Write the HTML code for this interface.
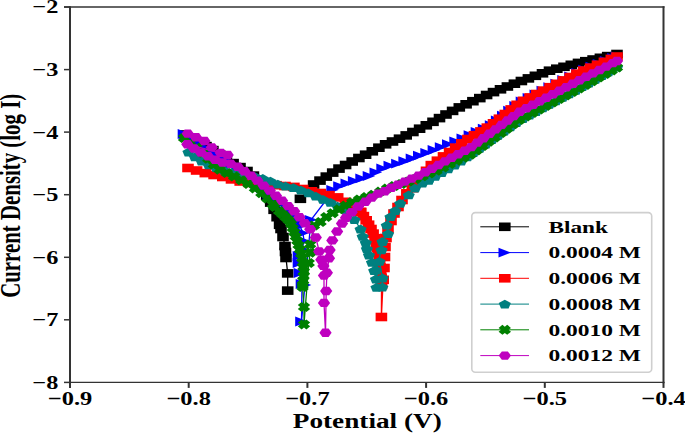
<!DOCTYPE html><html><head><meta charset="utf-8"><style>html,body{margin:0;padding:0;background:#fff;width:685px;height:433px;overflow:hidden}svg{display:block}text{font-family:"Liberation Serif",serif;font-weight:bold;fill:#000}</style></head><body>
<svg width="685" height="433" viewBox="0 0 685 433">
<g>
<polyline points="185.0,134.5 192.0,138.4 199.0,142.2 206.0,146.1 212.9,150.1 219.6,154.5 226.4,158.8 233.1,163.1 240.0,167.1 247.0,171.0 253.4,175.6 258.0,182.2 262.5,188.8 266.7,195.6 270.7,202.6 274.1,209.8 277.1,217.2 279.6,224.8 281.0,229.0 283.0,237.0 285.0,246.0 285.5,252.0 286.0,258.0 287.7,273.4 287.7,290.6" fill="none" stroke="#000000" stroke-width="1.3" stroke-linejoin="round"/>
<polyline points="300.4,198.8 313.6,184.5 320.0,180.6 326.3,176.6 332.7,172.6 339.0,168.6 345.6,165.0 352.2,161.5 358.9,158.0 365.6,154.7 372.3,151.3 378.9,147.7 385.6,144.3 392.5,141.5 399.5,138.7 406.2,135.4 412.9,132.0 419.6,128.7 426.3,125.3 433.0,121.8 439.5,118.1 446.0,114.5 452.6,110.9 459.3,107.4 466.1,104.3 472.9,101.2 479.8,98.1 486.6,95.0 493.5,92.1 500.5,89.3 507.4,86.5 514.4,83.7 521.4,81.0 528.4,78.4 535.4,75.8 542.5,73.3 549.5,70.7 556.8,68.7 564.0,66.8 571.3,64.8 578.5,62.9 585.8,61.2 593.1,59.5 600.4,57.8 607.7,56.1 617.0,54.0" fill="none" stroke="#000000" stroke-width="1.3" stroke-linejoin="round"/>
<polygon points="179.2,130.2 190.8,130.2 190.8,138.8 179.2,138.8" fill="#000000"/>
<polygon points="186.2,134.1 197.8,134.1 197.8,142.7 186.2,142.7" fill="#000000"/>
<polygon points="193.2,137.9 204.8,137.9 204.8,146.5 193.2,146.5" fill="#000000"/>
<polygon points="200.2,141.8 211.8,141.8 211.8,150.4 200.2,150.4" fill="#000000"/>
<polygon points="207.1,145.8 218.7,145.8 218.7,154.4 207.1,154.4" fill="#000000"/>
<polygon points="213.8,150.2 225.4,150.2 225.4,158.8 213.8,158.8" fill="#000000"/>
<polygon points="220.6,154.5 232.2,154.5 232.2,163.1 220.6,163.1" fill="#000000"/>
<polygon points="227.3,158.8 238.9,158.8 238.9,167.4 227.3,167.4" fill="#000000"/>
<polygon points="234.2,162.8 245.8,162.8 245.8,171.4 234.2,171.4" fill="#000000"/>
<polygon points="241.2,166.7 252.8,166.7 252.8,175.3 241.2,175.3" fill="#000000"/>
<polygon points="247.6,171.3 259.2,171.3 259.2,179.9 247.6,179.9" fill="#000000"/>
<polygon points="252.2,177.9 263.8,177.9 263.8,186.5 252.2,186.5" fill="#000000"/>
<polygon points="256.7,184.5 268.3,184.5 268.3,193.1 256.7,193.1" fill="#000000"/>
<polygon points="260.9,191.3 272.5,191.3 272.5,199.9 260.9,199.9" fill="#000000"/>
<polygon points="264.9,198.3 276.5,198.3 276.5,206.9 264.9,206.9" fill="#000000"/>
<polygon points="268.3,205.5 279.9,205.5 279.9,214.1 268.3,214.1" fill="#000000"/>
<polygon points="271.3,212.9 282.9,212.9 282.9,221.5 271.3,221.5" fill="#000000"/>
<polygon points="273.8,220.5 285.4,220.5 285.4,229.1 273.8,229.1" fill="#000000"/>
<polygon points="275.2,224.7 286.8,224.7 286.8,233.3 275.2,233.3" fill="#000000"/>
<polygon points="277.2,232.7 288.8,232.7 288.8,241.3 277.2,241.3" fill="#000000"/>
<polygon points="279.2,241.7 290.8,241.7 290.8,250.3 279.2,250.3" fill="#000000"/>
<polygon points="279.7,247.7 291.3,247.7 291.3,256.3 279.7,256.3" fill="#000000"/>
<polygon points="280.2,253.7 291.8,253.7 291.8,262.3 280.2,262.3" fill="#000000"/>
<polygon points="281.9,269.1 293.5,269.1 293.5,277.7 281.9,277.7" fill="#000000"/>
<polygon points="281.9,286.3 293.5,286.3 293.5,294.9 281.9,294.9" fill="#000000"/>
<polygon points="294.6,194.5 306.2,194.5 306.2,203.1 294.6,203.1" fill="#000000"/>
<polygon points="307.8,180.2 319.4,180.2 319.4,188.8 307.8,188.8" fill="#000000"/>
<polygon points="314.2,176.3 325.8,176.3 325.8,184.9 314.2,184.9" fill="#000000"/>
<polygon points="320.5,172.3 332.1,172.3 332.1,180.9 320.5,180.9" fill="#000000"/>
<polygon points="326.9,168.3 338.5,168.3 338.5,176.9 326.9,176.9" fill="#000000"/>
<polygon points="333.2,164.3 344.8,164.3 344.8,172.9 333.2,172.9" fill="#000000"/>
<polygon points="339.8,160.7 351.4,160.7 351.4,169.3 339.8,169.3" fill="#000000"/>
<polygon points="346.4,157.2 358.0,157.2 358.0,165.8 346.4,165.8" fill="#000000"/>
<polygon points="353.1,153.7 364.7,153.7 364.7,162.3 353.1,162.3" fill="#000000"/>
<polygon points="359.8,150.4 371.4,150.4 371.4,159.0 359.8,159.0" fill="#000000"/>
<polygon points="366.5,147.0 378.1,147.0 378.1,155.6 366.5,155.6" fill="#000000"/>
<polygon points="373.1,143.4 384.7,143.4 384.7,152.0 373.1,152.0" fill="#000000"/>
<polygon points="379.8,140.0 391.4,140.0 391.4,148.6 379.8,148.6" fill="#000000"/>
<polygon points="386.7,137.2 398.3,137.2 398.3,145.8 386.7,145.8" fill="#000000"/>
<polygon points="393.7,134.4 405.3,134.4 405.3,143.0 393.7,143.0" fill="#000000"/>
<polygon points="400.4,131.1 412.0,131.1 412.0,139.7 400.4,139.7" fill="#000000"/>
<polygon points="407.1,127.7 418.7,127.7 418.7,136.3 407.1,136.3" fill="#000000"/>
<polygon points="413.8,124.4 425.4,124.4 425.4,133.0 413.8,133.0" fill="#000000"/>
<polygon points="420.5,121.0 432.1,121.0 432.1,129.6 420.5,129.6" fill="#000000"/>
<polygon points="427.2,117.5 438.8,117.5 438.8,126.1 427.2,126.1" fill="#000000"/>
<polygon points="433.7,113.8 445.3,113.8 445.3,122.4 433.7,122.4" fill="#000000"/>
<polygon points="440.2,110.2 451.8,110.2 451.8,118.8 440.2,118.8" fill="#000000"/>
<polygon points="446.8,106.6 458.4,106.6 458.4,115.2 446.8,115.2" fill="#000000"/>
<polygon points="453.5,103.1 465.1,103.1 465.1,111.7 453.5,111.7" fill="#000000"/>
<polygon points="460.3,100.0 471.9,100.0 471.9,108.6 460.3,108.6" fill="#000000"/>
<polygon points="467.1,96.9 478.7,96.9 478.7,105.5 467.1,105.5" fill="#000000"/>
<polygon points="474.0,93.8 485.6,93.8 485.6,102.4 474.0,102.4" fill="#000000"/>
<polygon points="480.8,90.7 492.4,90.7 492.4,99.3 480.8,99.3" fill="#000000"/>
<polygon points="487.7,87.8 499.3,87.8 499.3,96.4 487.7,96.4" fill="#000000"/>
<polygon points="494.7,85.0 506.3,85.0 506.3,93.6 494.7,93.6" fill="#000000"/>
<polygon points="501.6,82.2 513.2,82.2 513.2,90.8 501.6,90.8" fill="#000000"/>
<polygon points="508.6,79.4 520.2,79.4 520.2,88.0 508.6,88.0" fill="#000000"/>
<polygon points="515.6,76.7 527.2,76.7 527.2,85.3 515.6,85.3" fill="#000000"/>
<polygon points="522.6,74.1 534.2,74.1 534.2,82.7 522.6,82.7" fill="#000000"/>
<polygon points="529.6,71.5 541.2,71.5 541.2,80.1 529.6,80.1" fill="#000000"/>
<polygon points="536.7,69.0 548.3,69.0 548.3,77.6 536.7,77.6" fill="#000000"/>
<polygon points="543.7,66.4 555.3,66.4 555.3,75.0 543.7,75.0" fill="#000000"/>
<polygon points="551.0,64.4 562.6,64.4 562.6,73.0 551.0,73.0" fill="#000000"/>
<polygon points="558.2,62.5 569.8,62.5 569.8,71.1 558.2,71.1" fill="#000000"/>
<polygon points="565.5,60.5 577.1,60.5 577.1,69.1 565.5,69.1" fill="#000000"/>
<polygon points="572.7,58.6 584.3,58.6 584.3,67.2 572.7,67.2" fill="#000000"/>
<polygon points="580.0,56.9 591.6,56.9 591.6,65.5 580.0,65.5" fill="#000000"/>
<polygon points="587.3,55.2 598.9,55.2 598.9,63.8 587.3,63.8" fill="#000000"/>
<polygon points="594.6,53.5 606.2,53.5 606.2,62.1 594.6,62.1" fill="#000000"/>
<polygon points="601.9,51.8 613.5,51.8 613.5,60.4 601.9,60.4" fill="#000000"/>
<polygon points="611.2,49.7 622.8,49.7 622.8,58.3 611.2,58.3" fill="#000000"/>
</g>
<g>
<polyline points="184.0,134.0 190.7,138.4 197.3,142.9 204.0,147.3 210.8,151.5 217.6,155.7 224.4,159.8 231.2,164.2 237.8,168.7 244.4,173.2 250.9,177.8 256.8,183.2 262.8,188.5 268.7,193.9 274.9,198.9 281.2,203.9 287.5,208.8 292.5,215.0 297.0,221.6 300.0,226.0 303.0,233.0 304.0,241.0 302.0,249.0 299.0,256.0 299.0,263.0 300.0,273.0 302.0,284.0 301.5,321.5 305.0,285.0 311.0,219.8 327.0,199.0 332.6,189.8 339.5,186.1 346.8,183.4 354.2,180.9 361.6,178.4 369.0,176.0 375.8,172.3 382.6,168.4 389.8,165.7 397.4,163.7 404.7,161.2 412.0,158.4 419.3,155.6 426.6,152.8 433.9,150.0 441.1,147.1 448.3,144.2 455.6,141.3 462.8,138.3 469.9,135.1 477.0,131.9 484.1,128.6 491.1,125.2 497.2,120.4 503.3,115.6 509.5,110.7 515.6,105.9 522.0,101.5 528.9,97.9 535.8,94.3 542.8,90.7 549.7,87.2 556.6,83.6 563.6,80.0 570.5,76.4 577.4,72.8 584.5,69.7 591.8,66.7 599.0,63.8 606.2,60.9 613.5,57.9 617.0,56.5" fill="none" stroke="#0000ff" stroke-width="1.3" stroke-linejoin="round"/>
<polygon points="190.3,134.0 177.7,129.1 177.7,138.9" fill="#0000ff"/>
<polygon points="197.0,138.4 184.4,133.5 184.4,143.3" fill="#0000ff"/>
<polygon points="203.6,142.9 191.0,138.0 191.0,147.8" fill="#0000ff"/>
<polygon points="210.3,147.3 197.7,142.4 197.7,152.2" fill="#0000ff"/>
<polygon points="217.1,151.5 204.5,146.6 204.5,156.4" fill="#0000ff"/>
<polygon points="223.9,155.7 211.3,150.8 211.3,160.6" fill="#0000ff"/>
<polygon points="230.7,159.8 218.1,154.9 218.1,164.7" fill="#0000ff"/>
<polygon points="237.5,164.2 224.9,159.3 224.9,169.1" fill="#0000ff"/>
<polygon points="244.1,168.7 231.5,163.8 231.5,173.6" fill="#0000ff"/>
<polygon points="250.7,173.2 238.1,168.3 238.1,178.1" fill="#0000ff"/>
<polygon points="257.2,177.8 244.6,172.9 244.6,182.7" fill="#0000ff"/>
<polygon points="263.1,183.2 250.5,178.3 250.5,188.1" fill="#0000ff"/>
<polygon points="269.1,188.5 256.5,183.6 256.5,193.4" fill="#0000ff"/>
<polygon points="275.0,193.9 262.4,189.0 262.4,198.8" fill="#0000ff"/>
<polygon points="281.2,198.9 268.6,194.0 268.6,203.8" fill="#0000ff"/>
<polygon points="287.5,203.9 274.9,199.0 274.9,208.8" fill="#0000ff"/>
<polygon points="293.8,208.8 281.2,203.9 281.2,213.7" fill="#0000ff"/>
<polygon points="298.8,215.0 286.2,210.1 286.2,219.9" fill="#0000ff"/>
<polygon points="303.3,221.6 290.7,216.7 290.7,226.5" fill="#0000ff"/>
<polygon points="306.3,226.0 293.7,221.1 293.7,230.9" fill="#0000ff"/>
<polygon points="309.3,233.0 296.7,228.1 296.7,237.9" fill="#0000ff"/>
<polygon points="310.3,241.0 297.7,236.1 297.7,245.9" fill="#0000ff"/>
<polygon points="308.3,249.0 295.7,244.1 295.7,253.9" fill="#0000ff"/>
<polygon points="305.3,256.0 292.7,251.1 292.7,260.9" fill="#0000ff"/>
<polygon points="305.3,263.0 292.7,258.1 292.7,267.9" fill="#0000ff"/>
<polygon points="306.3,273.0 293.7,268.1 293.7,277.9" fill="#0000ff"/>
<polygon points="308.3,284.0 295.7,279.1 295.7,288.9" fill="#0000ff"/>
<polygon points="307.8,321.5 295.2,316.6 295.2,326.4" fill="#0000ff"/>
<polygon points="311.3,285.0 298.7,280.1 298.7,289.9" fill="#0000ff"/>
<polygon points="317.3,219.8 304.7,214.9 304.7,224.7" fill="#0000ff"/>
<polygon points="333.3,199.0 320.7,194.1 320.7,203.9" fill="#0000ff"/>
<polygon points="338.9,189.8 326.3,184.9 326.3,194.7" fill="#0000ff"/>
<polygon points="345.8,186.1 333.2,181.2 333.2,191.0" fill="#0000ff"/>
<polygon points="353.1,183.4 340.5,178.5 340.5,188.3" fill="#0000ff"/>
<polygon points="360.5,180.9 347.9,176.0 347.9,185.8" fill="#0000ff"/>
<polygon points="367.9,178.4 355.3,173.5 355.3,183.3" fill="#0000ff"/>
<polygon points="375.3,176.0 362.7,171.1 362.7,180.9" fill="#0000ff"/>
<polygon points="382.1,172.3 369.5,167.4 369.5,177.2" fill="#0000ff"/>
<polygon points="388.9,168.4 376.3,163.5 376.3,173.3" fill="#0000ff"/>
<polygon points="396.1,165.7 383.5,160.8 383.5,170.6" fill="#0000ff"/>
<polygon points="403.7,163.7 391.1,158.8 391.1,168.6" fill="#0000ff"/>
<polygon points="411.0,161.2 398.4,156.3 398.4,166.1" fill="#0000ff"/>
<polygon points="418.3,158.4 405.7,153.5 405.7,163.3" fill="#0000ff"/>
<polygon points="425.6,155.6 413.0,150.7 413.0,160.5" fill="#0000ff"/>
<polygon points="432.9,152.8 420.3,147.9 420.3,157.7" fill="#0000ff"/>
<polygon points="440.2,150.0 427.6,145.1 427.6,154.9" fill="#0000ff"/>
<polygon points="447.4,147.1 434.8,142.2 434.8,152.0" fill="#0000ff"/>
<polygon points="454.6,144.2 442.0,139.3 442.0,149.1" fill="#0000ff"/>
<polygon points="461.9,141.3 449.3,136.4 449.3,146.2" fill="#0000ff"/>
<polygon points="469.1,138.3 456.5,133.4 456.5,143.2" fill="#0000ff"/>
<polygon points="476.2,135.1 463.6,130.2 463.6,140.0" fill="#0000ff"/>
<polygon points="483.3,131.9 470.7,127.0 470.7,136.8" fill="#0000ff"/>
<polygon points="490.4,128.6 477.8,123.7 477.8,133.5" fill="#0000ff"/>
<polygon points="497.4,125.2 484.8,120.3 484.8,130.1" fill="#0000ff"/>
<polygon points="503.5,120.4 490.9,115.5 490.9,125.3" fill="#0000ff"/>
<polygon points="509.6,115.6 497.0,110.7 497.0,120.5" fill="#0000ff"/>
<polygon points="515.8,110.7 503.2,105.8 503.2,115.6" fill="#0000ff"/>
<polygon points="521.9,105.9 509.3,101.0 509.3,110.8" fill="#0000ff"/>
<polygon points="528.3,101.5 515.7,96.6 515.7,106.4" fill="#0000ff"/>
<polygon points="535.2,97.9 522.6,93.0 522.6,102.8" fill="#0000ff"/>
<polygon points="542.1,94.3 529.5,89.4 529.5,99.2" fill="#0000ff"/>
<polygon points="549.1,90.7 536.5,85.8 536.5,95.6" fill="#0000ff"/>
<polygon points="556.0,87.2 543.4,82.3 543.4,92.1" fill="#0000ff"/>
<polygon points="562.9,83.6 550.3,78.7 550.3,88.5" fill="#0000ff"/>
<polygon points="569.9,80.0 557.3,75.1 557.3,84.9" fill="#0000ff"/>
<polygon points="576.8,76.4 564.2,71.5 564.2,81.3" fill="#0000ff"/>
<polygon points="583.7,72.8 571.1,67.9 571.1,77.7" fill="#0000ff"/>
<polygon points="590.8,69.7 578.2,64.8 578.2,74.6" fill="#0000ff"/>
<polygon points="598.1,66.7 585.5,61.8 585.5,71.6" fill="#0000ff"/>
<polygon points="605.3,63.8 592.7,58.9 592.7,68.7" fill="#0000ff"/>
<polygon points="612.5,60.9 599.9,56.0 599.9,65.8" fill="#0000ff"/>
<polygon points="619.8,57.9 607.2,53.0 607.2,62.8" fill="#0000ff"/>
<polygon points="623.3,56.5 610.7,51.6 610.7,61.4" fill="#0000ff"/>
</g>
<g>
<polyline points="188.0,168.0 196.6,170.5 205.3,173.1 214.1,175.0 222.8,177.0 231.5,179.4 240.2,181.5 249.1,182.9 258.1,183.8 267.0,184.5 276.0,185.2 285.0,186.0 293.9,186.9 302.7,189.0 311.4,191.3 320.2,193.0 329.0,195.1 337.7,197.4 345.4,201.8 352.8,206.9 360.6,212.0 360.6,212.0 363.4,216.1 366.2,220.3 368.6,224.7 371.0,229.0 373.1,233.6 375.0,238.2 376.3,243.0 377.4,247.9 378.4,252.8 379.2,257.8 379.7,262.7 380.2,267.7 380.7,272.7 381.1,277.7 381.4,282.6 381.5,285.0 381.4,317.0 383.2,279.8 384.0,268.0 384.5,257.0 385.0,247.0 386.0,238.0 388.0,229.0 391.0,221.0 394.0,213.5 398.0,207.0 402.0,200.0 407.0,193.5 407.0,193.5 412.3,188.2 417.5,182.8 422.1,176.9 426.5,170.8 431.3,165.1 437.4,160.7 443.5,156.4 449.6,152.0 455.6,147.6 461.8,143.3 467.9,139.0 474.4,135.2 480.9,131.4 487.3,127.6 493.5,123.3 499.4,118.7 505.3,114.0 511.2,109.4 517.1,104.8 523.4,100.8 530.1,97.4 536.7,94.0 543.4,90.6 550.1,87.2 556.8,83.8 563.5,80.4 570.2,77.0 576.9,73.6 583.7,70.5 590.6,67.6 597.5,64.7 604.4,61.8 611.3,58.9 617.0,56.5" fill="none" stroke="#ff0000" stroke-width="1.3" stroke-linejoin="round"/>
<polygon points="182.2,163.7 193.8,163.7 193.8,172.3 182.2,172.3" fill="#ff0000"/>
<polygon points="190.8,166.2 202.4,166.2 202.4,174.8 190.8,174.8" fill="#ff0000"/>
<polygon points="199.5,168.8 211.1,168.8 211.1,177.4 199.5,177.4" fill="#ff0000"/>
<polygon points="208.3,170.7 219.9,170.7 219.9,179.3 208.3,179.3" fill="#ff0000"/>
<polygon points="217.0,172.7 228.6,172.7 228.6,181.3 217.0,181.3" fill="#ff0000"/>
<polygon points="225.7,175.1 237.3,175.1 237.3,183.7 225.7,183.7" fill="#ff0000"/>
<polygon points="234.4,177.2 246.0,177.2 246.0,185.8 234.4,185.8" fill="#ff0000"/>
<polygon points="243.3,178.6 254.9,178.6 254.9,187.2 243.3,187.2" fill="#ff0000"/>
<polygon points="252.3,179.5 263.9,179.5 263.9,188.1 252.3,188.1" fill="#ff0000"/>
<polygon points="261.2,180.2 272.8,180.2 272.8,188.8 261.2,188.8" fill="#ff0000"/>
<polygon points="270.2,180.9 281.8,180.9 281.8,189.5 270.2,189.5" fill="#ff0000"/>
<polygon points="279.2,181.7 290.8,181.7 290.8,190.3 279.2,190.3" fill="#ff0000"/>
<polygon points="288.1,182.6 299.7,182.6 299.7,191.2 288.1,191.2" fill="#ff0000"/>
<polygon points="296.9,184.7 308.5,184.7 308.5,193.3 296.9,193.3" fill="#ff0000"/>
<polygon points="305.6,187.0 317.2,187.0 317.2,195.6 305.6,195.6" fill="#ff0000"/>
<polygon points="314.4,188.7 326.0,188.7 326.0,197.3 314.4,197.3" fill="#ff0000"/>
<polygon points="323.2,190.8 334.8,190.8 334.8,199.4 323.2,199.4" fill="#ff0000"/>
<polygon points="331.9,193.1 343.5,193.1 343.5,201.7 331.9,201.7" fill="#ff0000"/>
<polygon points="339.6,197.5 351.2,197.5 351.2,206.1 339.6,206.1" fill="#ff0000"/>
<polygon points="347.0,202.6 358.6,202.6 358.6,211.2 347.0,211.2" fill="#ff0000"/>
<polygon points="354.8,207.7 366.4,207.7 366.4,216.3 354.8,216.3" fill="#ff0000"/>
<polygon points="354.8,207.7 366.4,207.7 366.4,216.3 354.8,216.3" fill="#ff0000"/>
<polygon points="357.6,211.8 369.2,211.8 369.2,220.4 357.6,220.4" fill="#ff0000"/>
<polygon points="360.4,216.0 372.0,216.0 372.0,224.6 360.4,224.6" fill="#ff0000"/>
<polygon points="362.8,220.4 374.4,220.4 374.4,229.0 362.8,229.0" fill="#ff0000"/>
<polygon points="365.2,224.7 376.8,224.7 376.8,233.3 365.2,233.3" fill="#ff0000"/>
<polygon points="367.3,229.3 378.9,229.3 378.9,237.9 367.3,237.9" fill="#ff0000"/>
<polygon points="369.2,233.9 380.8,233.9 380.8,242.5 369.2,242.5" fill="#ff0000"/>
<polygon points="370.5,238.7 382.1,238.7 382.1,247.3 370.5,247.3" fill="#ff0000"/>
<polygon points="371.6,243.6 383.2,243.6 383.2,252.2 371.6,252.2" fill="#ff0000"/>
<polygon points="372.6,248.5 384.2,248.5 384.2,257.1 372.6,257.1" fill="#ff0000"/>
<polygon points="373.4,253.5 385.0,253.5 385.0,262.1 373.4,262.1" fill="#ff0000"/>
<polygon points="373.9,258.4 385.5,258.4 385.5,267.0 373.9,267.0" fill="#ff0000"/>
<polygon points="374.4,263.4 386.0,263.4 386.0,272.0 374.4,272.0" fill="#ff0000"/>
<polygon points="374.9,268.4 386.5,268.4 386.5,277.0 374.9,277.0" fill="#ff0000"/>
<polygon points="375.3,273.4 386.9,273.4 386.9,282.0 375.3,282.0" fill="#ff0000"/>
<polygon points="375.6,278.3 387.2,278.3 387.2,286.9 375.6,286.9" fill="#ff0000"/>
<polygon points="375.7,280.7 387.3,280.7 387.3,289.3 375.7,289.3" fill="#ff0000"/>
<polygon points="375.6,312.7 387.2,312.7 387.2,321.3 375.6,321.3" fill="#ff0000"/>
<polygon points="377.4,275.5 389.0,275.5 389.0,284.1 377.4,284.1" fill="#ff0000"/>
<polygon points="378.2,263.7 389.8,263.7 389.8,272.3 378.2,272.3" fill="#ff0000"/>
<polygon points="378.7,252.7 390.3,252.7 390.3,261.3 378.7,261.3" fill="#ff0000"/>
<polygon points="379.2,242.7 390.8,242.7 390.8,251.3 379.2,251.3" fill="#ff0000"/>
<polygon points="380.2,233.7 391.8,233.7 391.8,242.3 380.2,242.3" fill="#ff0000"/>
<polygon points="382.2,224.7 393.8,224.7 393.8,233.3 382.2,233.3" fill="#ff0000"/>
<polygon points="385.2,216.7 396.8,216.7 396.8,225.3 385.2,225.3" fill="#ff0000"/>
<polygon points="388.2,209.2 399.8,209.2 399.8,217.8 388.2,217.8" fill="#ff0000"/>
<polygon points="392.2,202.7 403.8,202.7 403.8,211.3 392.2,211.3" fill="#ff0000"/>
<polygon points="396.2,195.7 407.8,195.7 407.8,204.3 396.2,204.3" fill="#ff0000"/>
<polygon points="401.2,189.2 412.8,189.2 412.8,197.8 401.2,197.8" fill="#ff0000"/>
<polygon points="401.2,189.2 412.8,189.2 412.8,197.8 401.2,197.8" fill="#ff0000"/>
<polygon points="406.5,183.9 418.1,183.9 418.1,192.5 406.5,192.5" fill="#ff0000"/>
<polygon points="411.7,178.5 423.3,178.5 423.3,187.1 411.7,187.1" fill="#ff0000"/>
<polygon points="416.3,172.6 427.9,172.6 427.9,181.2 416.3,181.2" fill="#ff0000"/>
<polygon points="420.7,166.5 432.3,166.5 432.3,175.1 420.7,175.1" fill="#ff0000"/>
<polygon points="425.5,160.8 437.1,160.8 437.1,169.4 425.5,169.4" fill="#ff0000"/>
<polygon points="431.6,156.4 443.2,156.4 443.2,165.0 431.6,165.0" fill="#ff0000"/>
<polygon points="437.7,152.1 449.3,152.1 449.3,160.7 437.7,160.7" fill="#ff0000"/>
<polygon points="443.8,147.7 455.4,147.7 455.4,156.3 443.8,156.3" fill="#ff0000"/>
<polygon points="449.8,143.3 461.4,143.3 461.4,151.9 449.8,151.9" fill="#ff0000"/>
<polygon points="456.0,139.0 467.6,139.0 467.6,147.6 456.0,147.6" fill="#ff0000"/>
<polygon points="462.1,134.7 473.7,134.7 473.7,143.3 462.1,143.3" fill="#ff0000"/>
<polygon points="468.6,130.9 480.2,130.9 480.2,139.5 468.6,139.5" fill="#ff0000"/>
<polygon points="475.1,127.1 486.7,127.1 486.7,135.7 475.1,135.7" fill="#ff0000"/>
<polygon points="481.5,123.3 493.1,123.3 493.1,131.9 481.5,131.9" fill="#ff0000"/>
<polygon points="487.7,119.0 499.3,119.0 499.3,127.6 487.7,127.6" fill="#ff0000"/>
<polygon points="493.6,114.4 505.2,114.4 505.2,123.0 493.6,123.0" fill="#ff0000"/>
<polygon points="499.5,109.7 511.1,109.7 511.1,118.3 499.5,118.3" fill="#ff0000"/>
<polygon points="505.4,105.1 517.0,105.1 517.0,113.7 505.4,113.7" fill="#ff0000"/>
<polygon points="511.3,100.5 522.9,100.5 522.9,109.1 511.3,109.1" fill="#ff0000"/>
<polygon points="517.6,96.5 529.2,96.5 529.2,105.1 517.6,105.1" fill="#ff0000"/>
<polygon points="524.3,93.1 535.9,93.1 535.9,101.7 524.3,101.7" fill="#ff0000"/>
<polygon points="530.9,89.7 542.5,89.7 542.5,98.3 530.9,98.3" fill="#ff0000"/>
<polygon points="537.6,86.3 549.2,86.3 549.2,94.9 537.6,94.9" fill="#ff0000"/>
<polygon points="544.3,82.9 555.9,82.9 555.9,91.5 544.3,91.5" fill="#ff0000"/>
<polygon points="551.0,79.5 562.6,79.5 562.6,88.1 551.0,88.1" fill="#ff0000"/>
<polygon points="557.7,76.1 569.3,76.1 569.3,84.7 557.7,84.7" fill="#ff0000"/>
<polygon points="564.4,72.7 576.0,72.7 576.0,81.3 564.4,81.3" fill="#ff0000"/>
<polygon points="571.1,69.3 582.7,69.3 582.7,77.9 571.1,77.9" fill="#ff0000"/>
<polygon points="577.9,66.2 589.5,66.2 589.5,74.8 577.9,74.8" fill="#ff0000"/>
<polygon points="584.8,63.3 596.4,63.3 596.4,71.9 584.8,71.9" fill="#ff0000"/>
<polygon points="591.7,60.4 603.3,60.4 603.3,69.0 591.7,69.0" fill="#ff0000"/>
<polygon points="598.6,57.5 610.2,57.5 610.2,66.1 598.6,66.1" fill="#ff0000"/>
<polygon points="605.5,54.6 617.1,54.6 617.1,63.2 605.5,63.2" fill="#ff0000"/>
<polygon points="611.2,52.2 622.8,52.2 622.8,60.8 611.2,60.8" fill="#ff0000"/>
</g>
<g>
<polyline points="188.5,152.0 194.9,156.8 201.7,161.1 208.7,164.8 216.2,167.7 223.8,170.2 231.4,172.5 239.3,173.9 247.2,175.1 255.0,176.7 262.8,178.5 270.4,181.1 277.8,184.1 285.5,186.1 293.4,187.7 300.9,190.2 308.4,192.9 315.7,196.2 323.0,199.4 330.5,202.3 337.5,206.2 347.0,212.0 354.4,219.6 360.6,229.0 362.7,236.3 365.8,242.5 366.9,248.8 369.0,255.0 372.0,262.3 374.2,270.6 376.0,279.0 376.5,287.3 382.3,287.0 382.5,278.0 379.4,261.3 376.0,270.0 381.5,249.8 382.5,241.5 388.0,233.7 386.8,225.2 390.5,216.7 395.3,210.6 400.2,203.3 408.7,194.9 415.0,188.2 422.4,183.0 428.7,180.0 428.7,180.0 435.2,176.3 441.7,172.5 448.2,168.8 454.7,165.0 461.1,161.2 467.3,156.9 473.4,152.6 479.6,148.3 485.7,144.0 491.9,139.7 498.0,135.4 504.2,131.1 510.3,126.8 516.4,122.5 522.8,118.5 529.4,115.0 536.0,111.5 542.6,107.9 549.3,104.4 555.9,100.9 562.5,97.3 569.1,93.8 575.7,90.3 582.3,86.7 588.8,83.0 595.4,79.3 601.9,75.6 608.4,71.9 617.0,67.0" fill="none" stroke="#008080" stroke-width="1.3" stroke-linejoin="round"/>
<polygon points="188.5,147.6 182.4,151.0 184.7,156.4 192.3,156.4 194.6,151.0" fill="#008080"/>
<polygon points="194.9,152.4 188.8,155.8 191.1,161.2 198.6,161.2 201.0,155.8" fill="#008080"/>
<polygon points="201.7,156.7 195.6,160.0 197.9,165.5 205.4,165.5 207.8,160.0" fill="#008080"/>
<polygon points="208.7,160.4 202.6,163.8 205.0,169.2 212.5,169.2 214.8,163.8" fill="#008080"/>
<polygon points="216.2,163.3 210.1,166.6 212.4,172.1 220.0,172.1 222.3,166.6" fill="#008080"/>
<polygon points="223.8,165.8 217.7,169.1 220.0,174.6 227.6,174.6 229.9,169.1" fill="#008080"/>
<polygon points="231.4,168.1 225.3,171.5 227.7,176.9 235.2,176.9 237.5,171.5" fill="#008080"/>
<polygon points="239.3,169.5 233.2,172.9 235.5,178.3 243.1,178.3 245.4,172.9" fill="#008080"/>
<polygon points="247.2,170.7 241.1,174.1 243.4,179.5 251.0,179.5 253.3,174.1" fill="#008080"/>
<polygon points="255.0,172.3 248.9,175.6 251.3,181.1 258.8,181.1 261.1,175.6" fill="#008080"/>
<polygon points="262.8,174.1 256.7,177.5 259.1,182.9 266.6,182.9 268.9,177.5" fill="#008080"/>
<polygon points="270.4,176.7 264.3,180.1 266.6,185.5 274.1,185.5 276.5,180.1" fill="#008080"/>
<polygon points="277.8,179.7 271.7,183.1 274.0,188.5 281.6,188.5 283.9,183.1" fill="#008080"/>
<polygon points="285.5,181.7 279.4,185.1 281.7,190.5 289.3,190.5 291.6,185.1" fill="#008080"/>
<polygon points="293.4,183.3 287.3,186.6 289.6,192.1 297.1,192.1 299.5,186.6" fill="#008080"/>
<polygon points="300.9,185.8 294.8,189.1 297.2,194.6 304.7,194.6 307.0,189.1" fill="#008080"/>
<polygon points="308.4,188.5 302.3,191.9 304.7,197.3 312.2,197.3 314.5,191.9" fill="#008080"/>
<polygon points="315.7,191.8 309.6,195.2 312.0,200.6 319.5,200.6 321.8,195.2" fill="#008080"/>
<polygon points="323.0,195.0 316.9,198.4 319.3,203.8 326.8,203.8 329.1,198.4" fill="#008080"/>
<polygon points="330.5,197.9 324.4,201.3 326.7,206.7 334.3,206.7 336.6,201.3" fill="#008080"/>
<polygon points="337.5,201.8 331.4,205.2 333.7,210.6 341.3,210.6 343.6,205.2" fill="#008080"/>
<polygon points="347.0,207.6 340.9,211.0 343.2,216.4 350.8,216.4 353.1,211.0" fill="#008080"/>
<polygon points="354.4,215.2 348.3,218.6 350.6,224.0 358.2,224.0 360.5,218.6" fill="#008080"/>
<polygon points="360.6,224.6 354.5,228.0 356.8,233.4 364.4,233.4 366.7,228.0" fill="#008080"/>
<polygon points="362.7,231.9 356.6,235.3 358.9,240.7 366.5,240.7 368.8,235.3" fill="#008080"/>
<polygon points="365.8,238.1 359.7,241.5 362.0,246.9 369.6,246.9 371.9,241.5" fill="#008080"/>
<polygon points="366.9,244.4 360.8,247.8 363.1,253.2 370.7,253.2 373.0,247.8" fill="#008080"/>
<polygon points="369.0,250.6 362.9,254.0 365.2,259.4 372.8,259.4 375.1,254.0" fill="#008080"/>
<polygon points="372.0,257.9 365.9,261.3 368.2,266.7 375.8,266.7 378.1,261.3" fill="#008080"/>
<polygon points="374.2,266.2 368.1,269.6 370.4,275.0 378.0,275.0 380.3,269.6" fill="#008080"/>
<polygon points="376.0,274.6 369.9,278.0 372.2,283.4 379.8,283.4 382.1,278.0" fill="#008080"/>
<polygon points="376.5,282.9 370.4,286.3 372.7,291.7 380.3,291.7 382.6,286.3" fill="#008080"/>
<polygon points="382.3,282.6 376.2,286.0 378.5,291.4 386.1,291.4 388.4,286.0" fill="#008080"/>
<polygon points="382.5,273.6 376.4,277.0 378.7,282.4 386.3,282.4 388.6,277.0" fill="#008080"/>
<polygon points="379.4,256.9 373.3,260.3 375.6,265.7 383.2,265.7 385.5,260.3" fill="#008080"/>
<polygon points="376.0,265.6 369.9,269.0 372.2,274.4 379.8,274.4 382.1,269.0" fill="#008080"/>
<polygon points="381.5,245.4 375.4,248.8 377.7,254.2 385.3,254.2 387.6,248.8" fill="#008080"/>
<polygon points="382.5,237.1 376.4,240.5 378.7,245.9 386.3,245.9 388.6,240.5" fill="#008080"/>
<polygon points="388.0,229.3 381.9,232.7 384.2,238.1 391.8,238.1 394.1,232.7" fill="#008080"/>
<polygon points="386.8,220.8 380.7,224.2 383.0,229.6 390.6,229.6 392.9,224.2" fill="#008080"/>
<polygon points="390.5,212.3 384.4,215.7 386.7,221.1 394.3,221.1 396.6,215.7" fill="#008080"/>
<polygon points="395.3,206.2 389.2,209.6 391.5,215.0 399.1,215.0 401.4,209.6" fill="#008080"/>
<polygon points="400.2,198.9 394.1,202.3 396.4,207.7 404.0,207.7 406.3,202.3" fill="#008080"/>
<polygon points="408.7,190.5 402.6,193.9 404.9,199.3 412.5,199.3 414.8,193.9" fill="#008080"/>
<polygon points="415.0,183.8 408.9,187.2 411.2,192.6 418.8,192.6 421.1,187.2" fill="#008080"/>
<polygon points="422.4,178.6 416.3,182.0 418.6,187.4 426.2,187.4 428.5,182.0" fill="#008080"/>
<polygon points="428.7,175.6 422.6,179.0 424.9,184.4 432.5,184.4 434.8,179.0" fill="#008080"/>
<polygon points="428.7,175.6 422.6,179.0 424.9,184.4 432.5,184.4 434.8,179.0" fill="#008080"/>
<polygon points="435.2,171.9 429.1,175.2 431.4,180.7 439.0,180.7 441.3,175.2" fill="#008080"/>
<polygon points="441.7,168.1 435.6,171.5 437.9,176.9 445.5,176.9 447.8,171.5" fill="#008080"/>
<polygon points="448.2,164.4 442.1,167.7 444.4,173.2 452.0,173.2 454.3,167.7" fill="#008080"/>
<polygon points="454.7,160.6 448.6,164.0 450.9,169.4 458.5,169.4 460.8,164.0" fill="#008080"/>
<polygon points="461.1,156.8 455.0,160.2 457.4,165.6 464.9,165.6 467.2,160.2" fill="#008080"/>
<polygon points="467.3,152.5 461.2,155.9 463.5,161.3 471.1,161.3 473.4,155.9" fill="#008080"/>
<polygon points="473.4,148.2 467.3,151.6 469.7,157.0 477.2,157.0 479.5,151.6" fill="#008080"/>
<polygon points="479.6,143.9 473.5,147.3 475.8,152.7 483.3,152.7 485.7,147.3" fill="#008080"/>
<polygon points="485.7,139.6 479.6,143.0 481.9,148.4 489.5,148.4 491.8,143.0" fill="#008080"/>
<polygon points="491.9,135.3 485.8,138.7 488.1,144.1 495.6,144.1 498.0,138.7" fill="#008080"/>
<polygon points="498.0,131.0 491.9,134.4 494.2,139.8 501.8,139.8 504.1,134.4" fill="#008080"/>
<polygon points="504.2,126.7 498.1,130.1 500.4,135.5 507.9,135.5 510.3,130.1" fill="#008080"/>
<polygon points="510.3,122.4 504.2,125.8 506.5,131.2 514.1,131.2 516.4,125.8" fill="#008080"/>
<polygon points="516.4,118.1 510.3,121.5 512.7,126.9 520.2,126.9 522.5,121.5" fill="#008080"/>
<polygon points="522.8,114.1 516.7,117.5 519.0,122.9 526.6,122.9 528.9,117.5" fill="#008080"/>
<polygon points="529.4,110.6 523.3,113.9 525.6,119.4 533.2,119.4 535.5,113.9" fill="#008080"/>
<polygon points="536.0,107.1 529.9,110.4 532.2,115.9 539.8,115.9 542.1,110.4" fill="#008080"/>
<polygon points="542.6,103.5 536.5,106.9 538.9,112.3 546.4,112.3 548.7,106.9" fill="#008080"/>
<polygon points="549.3,100.0 543.2,103.4 545.5,108.8 553.0,108.8 555.4,103.4" fill="#008080"/>
<polygon points="555.9,96.5 549.8,99.8 552.1,105.3 559.6,105.3 562.0,99.8" fill="#008080"/>
<polygon points="562.5,92.9 556.4,96.3 558.7,101.7 566.3,101.7 568.6,96.3" fill="#008080"/>
<polygon points="569.1,89.4 563.0,92.8 565.3,98.2 572.9,98.2 575.2,92.8" fill="#008080"/>
<polygon points="575.7,85.9 569.6,89.2 572.0,94.7 579.5,94.7 581.8,89.2" fill="#008080"/>
<polygon points="582.3,82.3 576.2,85.7 578.5,91.1 586.1,91.1 588.4,85.7" fill="#008080"/>
<polygon points="588.8,78.6 582.7,81.9 585.1,87.4 592.6,87.4 594.9,81.9" fill="#008080"/>
<polygon points="595.4,74.9 589.3,78.2 591.6,83.7 599.1,83.7 601.5,78.2" fill="#008080"/>
<polygon points="601.9,71.2 595.8,74.5 598.1,80.0 605.6,80.0 608.0,74.5" fill="#008080"/>
<polygon points="608.4,67.5 602.3,70.8 604.6,76.3 612.2,76.3 614.5,70.8" fill="#008080"/>
<polygon points="617.0,62.6 610.9,66.0 613.2,71.4 620.8,71.4 623.1,66.0" fill="#008080"/>
</g>
<g>
<polyline points="184.0,138.0 190.4,142.8 196.8,147.6 202.7,152.9 208.2,158.8 213.7,164.6 219.6,169.7 226.9,173.1 234.1,176.5 241.2,180.2 248.3,183.9 254.9,188.4 261.3,193.2 267.3,198.5 272.7,204.4 275.0,207.0 279.0,211.0 282.3,214.1 285.5,217.2 288.8,220.3 291.2,224.0 292.7,228.2 294.3,232.4 295.8,236.7 297.3,240.9 298.5,245.2 299.8,249.5 301.1,253.9 302.2,258.2 302.8,262.7 303.4,267.1 303.9,271.6 303.6,276.1 303.2,280.6 302.8,285.0 302.6,287.0 304.0,307.0 304.0,324.4 308.8,263.0 310.2,252.7 310.2,244.4 314.0,225.5 320.6,222.0 326.2,217.0 332.7,213.2 339.1,209.3 345.6,205.6 352.3,202.2 359.2,199.4 366.4,197.0 373.5,194.7 380.3,191.6 387.2,188.5 394.2,186.0 401.4,183.9 408.5,181.6 415.6,178.9 422.6,176.3 429.5,173.5 436.5,170.8 443.3,167.5 449.9,164.0 456.6,160.7 463.5,157.7 470.4,154.7 476.5,150.4 482.6,146.1 488.7,141.7 494.8,137.4 500.9,133.0 507.1,128.7 513.2,124.3 519.3,120.0 525.9,116.4 532.5,112.9 539.2,109.4 545.8,106.0 552.4,102.5 559.1,99.0 565.7,95.5 572.4,92.0 579.0,88.5 585.6,84.9 592.1,81.3 598.7,77.6 605.3,74.0 611.8,70.4 617.0,67.5" fill="none" stroke="#008000" stroke-width="1.3" stroke-linejoin="round"/>
<polygon points="186.4,133.0 190.2,136.1 187.8,138.0 190.2,139.9 186.4,143.0 184.0,141.1 181.6,143.0 177.8,139.9 180.2,138.0 177.8,136.1 181.6,133.0 184.0,134.9" fill="#008000"/>
<polygon points="192.8,137.8 196.6,140.9 194.2,142.8 196.6,144.7 192.8,147.8 190.4,145.9 188.0,147.8 184.2,144.7 186.6,142.8 184.2,140.9 188.0,137.8 190.4,139.7" fill="#008000"/>
<polygon points="199.2,142.6 203.0,145.7 200.6,147.6 203.0,149.5 199.2,152.6 196.8,150.7 194.4,152.6 190.6,149.5 193.0,147.6 190.6,145.7 194.4,142.6 196.8,144.5" fill="#008000"/>
<polygon points="205.1,147.9 208.9,151.0 206.6,152.9 208.9,154.8 205.1,157.9 202.7,156.0 200.4,157.9 196.5,154.8 198.9,152.9 196.5,151.0 200.4,147.9 202.7,149.8" fill="#008000"/>
<polygon points="210.6,153.8 214.4,156.9 212.0,158.8 214.4,160.7 210.6,163.8 208.2,161.9 205.8,163.8 202.0,160.7 204.4,158.8 202.0,156.9 205.8,153.8 208.2,155.7" fill="#008000"/>
<polygon points="216.0,159.6 219.9,162.7 217.5,164.6 219.9,166.5 216.0,169.6 213.7,167.7 211.3,169.6 207.5,166.5 209.8,164.6 207.5,162.7 211.3,159.6 213.7,161.5" fill="#008000"/>
<polygon points="222.0,164.7 225.8,167.8 223.5,169.7 225.8,171.6 222.0,174.7 219.6,172.8 217.3,174.7 213.4,171.6 215.8,169.7 213.4,167.8 217.3,164.7 219.6,166.6" fill="#008000"/>
<polygon points="229.3,168.1 233.1,171.2 230.8,173.1 233.1,175.0 229.3,178.1 226.9,176.2 224.6,178.1 220.7,175.0 223.1,173.1 220.7,171.2 224.6,168.1 226.9,170.0" fill="#008000"/>
<polygon points="236.5,171.5 240.3,174.6 238.0,176.5 240.3,178.4 236.5,181.5 234.1,179.6 231.8,181.5 227.9,178.4 230.3,176.5 227.9,174.6 231.8,171.5 234.1,173.4" fill="#008000"/>
<polygon points="243.6,175.2 247.4,178.3 245.1,180.2 247.4,182.1 243.6,185.2 241.2,183.3 238.9,185.2 235.0,182.1 237.4,180.2 235.0,178.3 238.9,175.2 241.2,177.1" fill="#008000"/>
<polygon points="250.7,178.9 254.5,182.0 252.2,183.9 254.5,185.8 250.7,188.9 248.3,187.0 246.0,188.9 242.1,185.8 244.5,183.9 242.1,182.0 246.0,178.9 248.3,180.8" fill="#008000"/>
<polygon points="257.2,183.4 261.1,186.6 258.7,188.4 261.1,190.3 257.2,193.4 254.9,191.6 252.5,193.4 248.7,190.3 251.0,188.4 248.7,186.6 252.5,183.4 254.9,185.3" fill="#008000"/>
<polygon points="263.7,188.2 267.5,191.3 265.1,193.2 267.5,195.1 263.7,198.2 261.3,196.3 258.9,198.2 255.1,195.1 257.5,193.2 255.1,191.3 258.9,188.2 261.3,190.1" fill="#008000"/>
<polygon points="269.6,193.5 273.5,196.6 271.1,198.5 273.5,200.4 269.6,203.5 267.3,201.6 264.9,203.5 261.1,200.4 263.4,198.5 261.1,196.6 264.9,193.5 267.3,195.4" fill="#008000"/>
<polygon points="275.0,199.4 278.9,202.5 276.5,204.4 278.9,206.3 275.0,209.4 272.7,207.5 270.3,209.4 266.5,206.3 268.8,204.4 266.5,202.5 270.3,199.4 272.7,201.3" fill="#008000"/>
<polygon points="277.4,202.0 281.2,205.1 278.8,207.0 281.2,208.9 277.4,212.0 275.0,210.1 272.6,212.0 268.8,208.9 271.2,207.0 268.8,205.1 272.6,202.0 275.0,203.9" fill="#008000"/>
<polygon points="281.4,206.0 285.2,209.1 282.8,211.0 285.2,212.9 281.4,216.0 279.0,214.1 276.6,216.0 272.8,212.9 275.2,211.0 272.8,209.1 276.6,206.0 279.0,207.9" fill="#008000"/>
<polygon points="284.6,209.1 288.5,212.2 286.1,214.1 288.5,216.0 284.6,219.1 282.3,217.2 279.9,219.1 276.1,216.0 278.4,214.1 276.1,212.2 279.9,209.1 282.3,211.0" fill="#008000"/>
<polygon points="287.9,212.2 291.7,215.3 289.4,217.2 291.7,219.1 287.9,222.2 285.5,220.3 283.2,222.2 279.3,219.1 281.7,217.2 279.3,215.3 283.2,212.2 285.5,214.1" fill="#008000"/>
<polygon points="291.1,215.3 295.0,218.4 292.6,220.3 295.0,222.2 291.1,225.3 288.8,223.4 286.4,225.3 282.6,222.2 284.9,220.3 282.6,218.4 286.4,215.3 288.8,217.2" fill="#008000"/>
<polygon points="293.6,219.0 297.4,222.1 295.1,224.0 297.4,225.9 293.6,229.0 291.2,227.1 288.9,229.0 285.0,225.9 287.4,224.0 285.0,222.1 288.9,219.0 291.2,220.9" fill="#008000"/>
<polygon points="295.1,223.2 298.9,226.3 296.6,228.2 298.9,230.1 295.1,233.2 292.7,231.3 290.4,233.2 286.5,230.1 288.9,228.2 286.5,226.3 290.4,223.2 292.7,225.1" fill="#008000"/>
<polygon points="296.6,227.4 300.5,230.5 298.1,232.4 300.5,234.3 296.6,237.4 294.3,235.5 291.9,237.4 288.1,234.3 290.4,232.4 288.1,230.5 291.9,227.4 294.3,229.3" fill="#008000"/>
<polygon points="298.1,231.7 302.0,234.8 299.6,236.7 302.0,238.6 298.1,241.7 295.8,239.8 293.4,241.7 289.6,238.6 291.9,236.7 289.6,234.8 293.4,231.7 295.8,233.6" fill="#008000"/>
<polygon points="299.6,235.9 303.5,239.0 301.1,240.9 303.5,242.8 299.6,245.9 297.3,244.0 294.9,245.9 291.1,242.8 293.4,240.9 291.1,239.0 294.9,235.9 297.3,237.8" fill="#008000"/>
<polygon points="300.9,240.2 304.7,243.3 302.4,245.2 304.7,247.1 300.9,250.2 298.5,248.3 296.2,250.2 292.3,247.1 294.7,245.2 292.3,243.3 296.2,240.2 298.5,242.1" fill="#008000"/>
<polygon points="302.2,244.5 306.0,247.6 303.7,249.5 306.0,251.4 302.2,254.5 299.8,252.6 297.5,254.5 293.6,251.4 296.0,249.5 293.6,247.6 297.5,244.5 299.8,246.4" fill="#008000"/>
<polygon points="303.4,248.9 307.3,252.0 304.9,253.9 307.3,255.8 303.4,258.9 301.1,257.0 298.7,258.9 294.9,255.8 297.2,253.9 294.9,252.0 298.7,248.9 301.1,250.8" fill="#008000"/>
<polygon points="304.5,253.2 308.4,256.3 306.0,258.2 308.4,260.1 304.5,263.2 302.2,261.3 299.8,263.2 296.0,260.1 298.3,258.2 296.0,256.3 299.8,253.2 302.2,255.1" fill="#008000"/>
<polygon points="305.1,257.7 309.0,260.8 306.6,262.7 309.0,264.6 305.1,267.7 302.8,265.8 300.4,267.7 296.6,264.6 298.9,262.7 296.6,260.8 300.4,257.7 302.8,259.6" fill="#008000"/>
<polygon points="305.7,262.1 309.6,265.2 307.2,267.1 309.6,269.0 305.7,272.1 303.4,270.2 301.0,272.1 297.2,269.0 299.5,267.1 297.2,265.2 301.0,262.1 303.4,264.0" fill="#008000"/>
<polygon points="306.3,266.6 310.1,269.7 307.8,271.6 310.1,273.5 306.3,276.6 303.9,274.7 301.6,276.6 297.7,273.5 300.1,271.6 297.7,269.7 301.6,266.6 303.9,268.5" fill="#008000"/>
<polygon points="306.0,271.1 309.8,274.2 307.5,276.1 309.8,278.0 306.0,281.1 303.6,279.2 301.3,281.1 297.4,278.0 299.8,276.1 297.4,274.2 301.3,271.1 303.6,273.0" fill="#008000"/>
<polygon points="305.6,275.6 309.4,278.7 307.0,280.6 309.4,282.5 305.6,285.6 303.2,283.7 300.8,285.6 297.0,282.5 299.4,280.6 297.0,278.7 300.8,275.6 303.2,277.5" fill="#008000"/>
<polygon points="305.1,280.0 309.0,283.1 306.6,285.0 309.0,286.9 305.1,290.0 302.8,288.1 300.4,290.0 296.6,286.9 298.9,285.0 296.6,283.1 300.4,280.0 302.8,281.9" fill="#008000"/>
<polygon points="305.0,282.0 308.8,285.1 306.4,287.0 308.8,288.9 305.0,292.0 302.6,290.1 300.2,292.0 296.4,288.9 298.8,287.0 296.4,285.1 300.2,282.0 302.6,283.9" fill="#008000"/>
<polygon points="306.4,302.0 310.2,305.1 307.8,307.0 310.2,308.9 306.4,312.0 304.0,310.1 301.6,312.0 297.8,308.9 300.2,307.0 297.8,305.1 301.6,302.0 304.0,303.9" fill="#008000"/>
<polygon points="306.4,319.4 310.2,322.5 307.8,324.4 310.2,326.3 306.4,329.4 304.0,327.5 301.6,329.4 297.8,326.3 300.2,324.4 297.8,322.5 301.6,319.4 304.0,321.3" fill="#008000"/>
<polygon points="311.2,258.0 315.0,261.1 312.6,263.0 315.0,264.9 311.2,268.0 308.8,266.1 306.4,268.0 302.6,264.9 305.0,263.0 302.6,261.1 306.4,258.0 308.8,259.9" fill="#008000"/>
<polygon points="312.6,247.7 316.4,250.8 314.0,252.7 316.4,254.6 312.6,257.7 310.2,255.8 307.8,257.7 304.0,254.6 306.4,252.7 304.0,250.8 307.8,247.7 310.2,249.6" fill="#008000"/>
<polygon points="312.6,239.4 316.4,242.5 314.0,244.4 316.4,246.3 312.6,249.4 310.2,247.5 307.8,249.4 304.0,246.3 306.4,244.4 304.0,242.5 307.8,239.4 310.2,241.3" fill="#008000"/>
<polygon points="316.4,220.5 320.2,223.6 317.8,225.5 320.2,227.4 316.4,230.5 314.0,228.6 311.6,230.5 307.8,227.4 310.2,225.5 307.8,223.6 311.6,220.5 314.0,222.4" fill="#008000"/>
<polygon points="323.0,217.0 326.8,220.1 324.5,222.0 326.8,223.9 323.0,227.0 320.6,225.1 318.3,227.0 314.4,223.9 316.8,222.0 314.4,220.1 318.3,217.0 320.6,218.9" fill="#008000"/>
<polygon points="328.6,212.0 332.4,215.1 330.1,217.0 332.4,218.9 328.6,222.0 326.2,220.1 323.9,222.0 320.0,218.9 322.4,217.0 320.0,215.1 323.9,212.0 326.2,213.9" fill="#008000"/>
<polygon points="335.0,208.2 338.9,211.3 336.5,213.2 338.9,215.1 335.0,218.2 332.7,216.3 330.3,218.2 326.5,215.1 328.8,213.2 326.5,211.3 330.3,208.2 332.7,210.1" fill="#008000"/>
<polygon points="341.5,204.3 345.3,207.4 343.0,209.3 345.3,211.2 341.5,214.3 339.1,212.4 336.8,214.3 332.9,211.2 335.3,209.3 332.9,207.4 336.8,204.3 339.1,206.2" fill="#008000"/>
<polygon points="348.0,200.6 351.8,203.7 349.5,205.6 351.8,207.5 348.0,210.6 345.6,208.7 343.3,210.6 339.4,207.5 341.8,205.6 339.4,203.7 343.3,200.6 345.6,202.5" fill="#008000"/>
<polygon points="354.6,197.2 358.5,200.3 356.1,202.2 358.5,204.1 354.6,207.2 352.3,205.3 349.9,207.2 346.1,204.1 348.4,202.2 346.1,200.3 349.9,197.2 352.3,199.1" fill="#008000"/>
<polygon points="361.6,194.4 365.4,197.5 363.1,199.4 365.4,201.3 361.6,204.4 359.2,202.5 356.9,204.4 353.0,201.3 355.4,199.4 353.0,197.5 356.9,194.4 359.2,196.3" fill="#008000"/>
<polygon points="368.7,192.0 372.6,195.1 370.2,197.0 372.6,198.9 368.7,202.0 366.4,200.1 364.0,202.0 360.2,198.9 362.5,197.0 360.2,195.1 364.0,192.0 366.4,193.9" fill="#008000"/>
<polygon points="375.8,189.7 379.7,192.8 377.3,194.7 379.7,196.6 375.8,199.7 373.5,197.8 371.1,199.7 367.3,196.6 369.6,194.7 367.3,192.8 371.1,189.7 373.5,191.6" fill="#008000"/>
<polygon points="382.7,186.6 386.5,189.7 384.2,191.6 386.5,193.5 382.7,196.6 380.3,194.7 378.0,196.6 374.1,193.5 376.5,191.6 374.1,189.7 378.0,186.6 380.3,188.5" fill="#008000"/>
<polygon points="389.5,183.5 393.4,186.6 391.0,188.5 393.4,190.4 389.5,193.5 387.2,191.6 384.8,193.5 381.0,190.4 383.3,188.5 381.0,186.6 384.8,183.5 387.2,185.4" fill="#008000"/>
<polygon points="396.6,181.0 400.4,184.1 398.1,186.0 400.4,187.9 396.6,191.0 394.2,189.1 391.9,191.0 388.0,187.9 390.4,186.0 388.0,184.1 391.9,181.0 394.2,182.9" fill="#008000"/>
<polygon points="403.8,178.9 407.6,182.0 405.2,183.9 407.6,185.8 403.8,188.9 401.4,187.0 399.0,188.9 395.2,185.8 397.6,183.9 395.2,182.0 399.0,178.9 401.4,180.8" fill="#008000"/>
<polygon points="410.9,176.6 414.7,179.7 412.4,181.6 414.7,183.4 410.9,186.6 408.5,184.7 406.2,186.6 402.3,183.4 404.7,181.6 402.3,179.7 406.2,176.6 408.5,178.4" fill="#008000"/>
<polygon points="417.9,173.9 421.8,177.0 419.4,178.9 421.8,180.8 417.9,183.9 415.6,182.0 413.2,183.9 409.4,180.8 411.7,178.9 409.4,177.0 413.2,173.9 415.6,175.8" fill="#008000"/>
<polygon points="424.9,171.3 428.8,174.4 426.4,176.3 428.8,178.2 424.9,181.3 422.6,179.4 420.2,181.3 416.4,178.2 418.7,176.3 416.4,174.4 420.2,171.3 422.6,173.2" fill="#008000"/>
<polygon points="431.9,168.5 435.7,171.6 433.4,173.5 435.7,175.4 431.9,178.5 429.5,176.6 427.2,178.5 423.3,175.4 425.7,173.5 423.3,171.6 427.2,168.5 429.5,170.4" fill="#008000"/>
<polygon points="438.9,165.8 442.7,168.9 440.4,170.8 442.7,172.7 438.9,175.8 436.5,173.9 434.2,175.8 430.3,172.7 432.7,170.8 430.3,168.9 434.2,165.8 436.5,167.7" fill="#008000"/>
<polygon points="445.6,162.5 449.5,165.6 447.1,167.5 449.5,169.4 445.6,172.5 443.3,170.6 440.9,172.5 437.1,169.4 439.4,167.5 437.1,165.6 440.9,162.5 443.3,164.4" fill="#008000"/>
<polygon points="452.2,159.0 456.1,162.1 453.7,164.0 456.1,165.9 452.2,169.0 449.9,167.1 447.5,169.0 443.7,165.9 446.0,164.0 443.7,162.1 447.5,159.0 449.9,160.9" fill="#008000"/>
<polygon points="459.0,155.7 462.8,158.8 460.4,160.7 462.8,162.6 459.0,165.7 456.6,163.8 454.2,165.7 450.4,162.6 452.8,160.7 450.4,158.8 454.2,155.7 456.6,157.6" fill="#008000"/>
<polygon points="465.9,152.7 469.7,155.8 467.4,157.7 469.7,159.6 465.9,162.7 463.5,160.8 461.2,162.7 457.3,159.6 459.7,157.7 457.3,155.8 461.2,152.7 463.5,154.6" fill="#008000"/>
<polygon points="472.7,149.7 476.6,152.8 474.2,154.7 476.6,156.6 472.7,159.7 470.4,157.8 468.0,159.7 464.2,156.6 466.5,154.7 464.2,152.8 468.0,149.7 470.4,151.6" fill="#008000"/>
<polygon points="478.8,145.4 482.7,148.5 480.3,150.4 482.7,152.3 478.8,155.4 476.5,153.5 474.1,155.4 470.3,152.3 472.6,150.4 470.3,148.5 474.1,145.4 476.5,147.3" fill="#008000"/>
<polygon points="485.0,141.1 488.8,144.2 486.5,146.1 488.8,147.9 485.0,151.1 482.6,149.2 480.3,151.1 476.4,147.9 478.8,146.1 476.4,144.2 480.3,141.1 482.6,142.9" fill="#008000"/>
<polygon points="491.1,136.7 494.9,139.8 492.6,141.7 494.9,143.6 491.1,146.7 488.7,144.8 486.4,146.7 482.5,143.6 484.9,141.7 482.5,139.8 486.4,136.7 488.7,138.6" fill="#008000"/>
<polygon points="497.2,132.4 501.0,135.5 498.7,137.4 501.0,139.3 497.2,142.4 494.8,140.5 492.5,142.4 488.6,139.3 491.0,137.4 488.6,135.5 492.5,132.4 494.8,134.3" fill="#008000"/>
<polygon points="503.3,128.0 507.1,131.1 504.8,133.0 507.1,134.9 503.3,138.0 500.9,136.1 498.6,138.0 494.7,134.9 497.1,133.0 494.7,131.1 498.6,128.0 500.9,129.9" fill="#008000"/>
<polygon points="509.4,123.7 513.3,126.8 510.9,128.7 513.3,130.6 509.4,133.7 507.1,131.8 504.7,133.7 500.9,130.6 503.2,128.7 500.9,126.8 504.7,123.7 507.1,125.6" fill="#008000"/>
<polygon points="515.5,119.3 519.4,122.4 517.0,124.3 519.4,126.2 515.5,129.3 513.2,127.4 510.8,129.3 507.0,126.2 509.3,124.3 507.0,122.4 510.8,119.3 513.2,121.2" fill="#008000"/>
<polygon points="521.6,115.0 525.5,118.1 523.1,120.0 525.5,121.9 521.6,125.0 519.3,123.1 516.9,125.0 513.1,121.9 515.4,120.0 513.1,118.1 516.9,115.0 519.3,116.9" fill="#008000"/>
<polygon points="528.2,111.4 532.1,114.5 529.7,116.4 532.1,118.3 528.2,121.4 525.9,119.5 523.5,121.4 519.7,118.3 522.0,116.4 519.7,114.5 523.5,111.4 525.9,113.3" fill="#008000"/>
<polygon points="534.9,107.9 538.7,111.0 536.4,112.9 538.7,114.8 534.9,117.9 532.5,116.0 530.2,117.9 526.3,114.8 528.7,112.9 526.3,111.0 530.2,107.9 532.5,109.8" fill="#008000"/>
<polygon points="541.5,104.4 545.4,107.5 543.0,109.4 545.4,111.3 541.5,114.4 539.2,112.5 536.8,114.4 533.0,111.3 535.3,109.4 533.0,107.5 536.8,104.4 539.2,106.3" fill="#008000"/>
<polygon points="548.1,101.0 552.0,104.1 549.6,106.0 552.0,107.9 548.1,111.0 545.8,109.1 543.4,111.0 539.6,107.9 541.9,106.0 539.6,104.1 543.4,101.0 545.8,102.9" fill="#008000"/>
<polygon points="554.8,97.5 558.6,100.6 556.3,102.5 558.6,104.4 554.8,107.5 552.4,105.6 550.1,107.5 546.2,104.4 548.6,102.5 546.2,100.6 550.1,97.5 552.4,99.4" fill="#008000"/>
<polygon points="561.4,94.0 565.3,97.1 562.9,99.0 565.3,100.9 561.4,104.0 559.1,102.1 556.7,104.0 552.9,100.9 555.2,99.0 552.9,97.1 556.7,94.0 559.1,95.9" fill="#008000"/>
<polygon points="568.1,90.5 571.9,93.6 569.6,95.5 571.9,97.4 568.1,100.5 565.7,98.6 563.4,100.5 559.5,97.4 561.9,95.5 559.5,93.6 563.4,90.5 565.7,92.4" fill="#008000"/>
<polygon points="574.7,87.0 578.6,90.1 576.2,92.0 578.6,93.9 574.7,97.0 572.4,95.1 570.0,97.0 566.2,93.9 568.5,92.0 566.2,90.1 570.0,87.0 572.4,88.9" fill="#008000"/>
<polygon points="581.4,83.5 585.2,86.6 582.8,88.5 585.2,90.4 581.4,93.5 579.0,91.6 576.6,93.5 572.8,90.4 575.2,88.5 572.8,86.6 576.6,83.5 579.0,85.4" fill="#008000"/>
<polygon points="587.9,79.9 591.8,83.0 589.4,84.9 591.8,86.8 587.9,89.9 585.6,88.0 583.2,89.9 579.4,86.8 581.7,84.9 579.4,83.0 583.2,79.9 585.6,81.8" fill="#008000"/>
<polygon points="594.5,76.3 598.3,79.4 596.0,81.3 598.3,83.2 594.5,86.3 592.1,84.4 589.8,86.3 585.9,83.2 588.3,81.3 585.9,79.4 589.8,76.3 592.1,78.2" fill="#008000"/>
<polygon points="601.0,72.6 604.9,75.7 602.5,77.6 604.9,79.5 601.0,82.6 598.7,80.7 596.3,82.6 592.5,79.5 594.8,77.6 592.5,75.7 596.3,72.6 598.7,74.5" fill="#008000"/>
<polygon points="607.6,69.0 611.5,72.1 609.1,74.0 611.5,75.9 607.6,79.0 605.3,77.1 602.9,79.0 599.1,75.9 601.4,74.0 599.1,72.1 602.9,69.0 605.3,70.9" fill="#008000"/>
<polygon points="614.2,65.4 618.0,68.5 615.7,70.4 618.0,72.3 614.2,75.4 611.8,73.5 609.5,75.4 605.6,72.3 608.0,70.4 605.6,68.5 609.5,65.4 611.8,67.3" fill="#008000"/>
<polygon points="619.4,62.5 623.2,65.6 620.8,67.5 623.2,69.4 619.4,72.5 617.0,70.6 614.6,72.5 610.8,69.4 613.2,67.5 610.8,65.6 614.6,62.5 617.0,64.4" fill="#008000"/>
</g>
<g>
<polyline points="187.7,133.6 196.0,137.3 204.4,141.0 211.8,147.4 220.8,153.0 227.7,155.0 187.3,144.2 194.0,148.5 200.9,152.6 208.0,156.2 215.2,159.7 222.7,162.5 230.6,163.8 237.8,166.8 244.4,171.2 251.1,175.7 257.4,180.6 263.6,185.6 269.8,190.6 276.0,195.7 282.1,200.8 288.2,206.1 294.2,211.3 299.5,217.3 304.8,223.3 310.2,229.2 315.8,237.5 319.2,251.4 321.3,259.7 323.4,265.9 324.0,275.6 324.0,302.9 325.5,332.7 326.2,291.0 326.9,272.8 329.0,258.3 329.6,250.0 332.3,240.4 337.1,231.5 342.0,223.5 346.0,217.8 351.7,212.2 358.1,206.5 365.4,201.7 371.8,197.6 378.3,193.6 384.8,191.2 391.2,187.9 391.2,187.9 398.0,184.7 404.8,181.6 411.7,178.6 418.6,175.6 425.3,172.3 431.9,168.7 438.4,165.0 445.0,161.4 451.5,157.7 458.1,154.2 464.8,150.7 471.3,147.1 477.4,142.6 483.4,138.2 489.5,133.8 495.5,129.4 501.6,124.9 507.6,120.5 513.7,116.1 519.8,111.7 526.4,108.2 533.0,104.7 539.7,101.2 546.3,97.7 552.9,94.2 559.6,90.7 566.2,87.2 572.9,83.8 579.5,80.3 586.2,76.8 592.8,73.4 599.5,70.0 606.2,66.6 612.9,63.1 617.0,61.0" fill="none" stroke="#bf00bf" stroke-width="1.3" stroke-linejoin="round"/>
<polygon points="193.8,133.6 190.8,137.8 184.6,137.8 181.6,133.6 184.6,129.4 190.8,129.4" fill="#bf00bf"/>
<polygon points="202.1,137.3 199.1,141.5 192.9,141.5 189.9,137.3 192.9,133.1 199.1,133.1" fill="#bf00bf"/>
<polygon points="210.5,141.0 207.5,145.2 201.3,145.2 198.3,141.0 201.3,136.8 207.5,136.8" fill="#bf00bf"/>
<polygon points="217.9,147.4 214.9,151.6 208.8,151.6 205.7,147.4 208.8,143.2 214.9,143.2" fill="#bf00bf"/>
<polygon points="226.9,153.0 223.9,157.2 217.8,157.2 214.7,153.0 217.8,148.8 223.9,148.8" fill="#bf00bf"/>
<polygon points="233.8,155.0 230.8,159.2 224.6,159.2 221.6,155.0 224.6,150.8 230.8,150.8" fill="#bf00bf"/>
<polygon points="193.4,144.2 190.4,148.4 184.2,148.4 181.2,144.2 184.2,140.0 190.4,140.0" fill="#bf00bf"/>
<polygon points="200.1,148.5 197.1,152.7 191.0,152.7 187.9,148.5 191.0,144.3 197.1,144.3" fill="#bf00bf"/>
<polygon points="207.0,152.6 204.0,156.8 197.9,156.8 194.8,152.6 197.9,148.4 204.0,148.4" fill="#bf00bf"/>
<polygon points="214.1,156.2 211.1,160.4 205.0,160.4 201.9,156.2 205.0,152.0 211.1,152.0" fill="#bf00bf"/>
<polygon points="221.3,159.7 218.3,163.9 212.2,163.9 209.1,159.7 212.2,155.5 218.3,155.5" fill="#bf00bf"/>
<polygon points="228.8,162.5 225.7,166.7 219.6,166.7 216.6,162.5 219.6,158.3 225.7,158.3" fill="#bf00bf"/>
<polygon points="236.7,163.8 233.6,168.0 227.5,168.0 224.5,163.8 227.5,159.6 233.6,159.6" fill="#bf00bf"/>
<polygon points="243.9,166.8 240.8,171.0 234.7,171.0 231.7,166.8 234.7,162.6 240.8,162.6" fill="#bf00bf"/>
<polygon points="250.5,171.2 247.5,175.4 241.4,175.4 238.3,171.2 241.4,167.0 247.5,167.0" fill="#bf00bf"/>
<polygon points="257.2,175.7 254.1,179.9 248.0,179.9 245.0,175.7 248.0,171.5 254.1,171.5" fill="#bf00bf"/>
<polygon points="263.5,180.6 260.4,184.8 254.3,184.8 251.3,180.6 254.3,176.4 260.4,176.4" fill="#bf00bf"/>
<polygon points="269.7,185.6 266.7,189.8 260.6,189.8 257.5,185.6 260.6,181.4 266.7,181.4" fill="#bf00bf"/>
<polygon points="275.9,190.6 272.9,194.8 266.8,194.8 263.7,190.6 266.8,186.4 272.9,186.4" fill="#bf00bf"/>
<polygon points="282.1,195.7 279.0,199.9 272.9,199.9 269.9,195.7 272.9,191.5 279.0,191.5" fill="#bf00bf"/>
<polygon points="288.2,200.8 285.2,205.0 279.1,205.0 276.0,200.8 279.1,196.6 285.2,196.6" fill="#bf00bf"/>
<polygon points="294.3,206.1 291.2,210.3 285.1,210.3 282.1,206.1 285.1,201.9 291.2,201.9" fill="#bf00bf"/>
<polygon points="300.3,211.3 297.3,215.5 291.2,215.5 288.1,211.3 291.2,207.1 297.3,207.1" fill="#bf00bf"/>
<polygon points="305.6,217.3 302.6,221.5 296.5,221.5 293.4,217.3 296.5,213.1 302.6,213.1" fill="#bf00bf"/>
<polygon points="310.9,223.3 307.8,227.5 301.7,227.5 298.7,223.3 301.7,219.1 307.8,219.1" fill="#bf00bf"/>
<polygon points="316.3,229.2 313.3,233.4 307.2,233.4 304.1,229.2 307.2,225.0 313.3,225.0" fill="#bf00bf"/>
<polygon points="321.9,237.5 318.9,241.7 312.8,241.7 309.7,237.5 312.8,233.3 318.9,233.3" fill="#bf00bf"/>
<polygon points="325.3,251.4 322.2,255.6 316.1,255.6 313.1,251.4 316.1,247.2 322.2,247.2" fill="#bf00bf"/>
<polygon points="327.4,259.7 324.4,263.9 318.2,263.9 315.2,259.7 318.2,255.5 324.4,255.5" fill="#bf00bf"/>
<polygon points="329.5,265.9 326.4,270.1 320.3,270.1 317.3,265.9 320.3,261.7 326.4,261.7" fill="#bf00bf"/>
<polygon points="330.1,275.6 327.1,279.8 320.9,279.8 317.9,275.6 320.9,271.4 327.1,271.4" fill="#bf00bf"/>
<polygon points="330.1,302.9 327.1,307.1 320.9,307.1 317.9,302.9 320.9,298.7 327.1,298.7" fill="#bf00bf"/>
<polygon points="331.6,332.7 328.6,336.9 322.4,336.9 319.4,332.7 322.4,328.5 328.6,328.5" fill="#bf00bf"/>
<polygon points="332.3,291.0 329.2,295.2 323.1,295.2 320.1,291.0 323.1,286.8 329.2,286.8" fill="#bf00bf"/>
<polygon points="333.0,272.8 329.9,277.0 323.8,277.0 320.8,272.8 323.8,268.6 329.9,268.6" fill="#bf00bf"/>
<polygon points="335.1,258.3 332.1,262.5 325.9,262.5 322.9,258.3 325.9,254.1 332.1,254.1" fill="#bf00bf"/>
<polygon points="335.7,250.0 332.7,254.2 326.6,254.2 323.5,250.0 326.6,245.8 332.7,245.8" fill="#bf00bf"/>
<polygon points="338.4,240.4 335.4,244.6 329.2,244.6 326.2,240.4 329.2,236.2 335.4,236.2" fill="#bf00bf"/>
<polygon points="343.2,231.5 340.2,235.7 334.1,235.7 331.0,231.5 334.1,227.3 340.2,227.3" fill="#bf00bf"/>
<polygon points="348.1,223.5 345.1,227.7 338.9,227.7 335.9,223.5 338.9,219.3 345.1,219.3" fill="#bf00bf"/>
<polygon points="352.1,217.8 349.1,222.0 342.9,222.0 339.9,217.8 342.9,213.6 349.1,213.6" fill="#bf00bf"/>
<polygon points="357.8,212.2 354.8,216.4 348.6,216.4 345.6,212.2 348.6,208.0 354.8,208.0" fill="#bf00bf"/>
<polygon points="364.2,206.5 361.2,210.7 355.1,210.7 352.0,206.5 355.1,202.3 361.2,202.3" fill="#bf00bf"/>
<polygon points="371.5,201.7 368.4,205.9 362.3,205.9 359.3,201.7 362.3,197.5 368.4,197.5" fill="#bf00bf"/>
<polygon points="377.9,197.6 374.9,201.8 368.8,201.8 365.7,197.6 368.8,193.4 374.9,193.4" fill="#bf00bf"/>
<polygon points="384.4,193.6 381.4,197.8 375.2,197.8 372.2,193.6 375.2,189.4 381.4,189.4" fill="#bf00bf"/>
<polygon points="390.9,191.2 387.9,195.4 381.8,195.4 378.7,191.2 381.8,187.0 387.9,187.0" fill="#bf00bf"/>
<polygon points="397.3,187.9 394.2,192.1 388.1,192.1 385.1,187.9 388.1,183.7 394.2,183.7" fill="#bf00bf"/>
<polygon points="397.3,187.9 394.2,192.1 388.1,192.1 385.1,187.9 388.1,183.7 394.2,183.7" fill="#bf00bf"/>
<polygon points="404.1,184.7 401.0,188.9 394.9,188.9 391.9,184.7 394.9,180.5 401.0,180.5" fill="#bf00bf"/>
<polygon points="410.9,181.6 407.8,185.8 401.7,185.8 398.7,181.6 401.7,177.4 407.8,177.4" fill="#bf00bf"/>
<polygon points="417.8,178.6 414.7,182.8 408.6,182.8 405.6,178.6 408.6,174.4 414.7,174.4" fill="#bf00bf"/>
<polygon points="424.7,175.6 421.6,179.8 415.5,179.8 412.5,175.6 415.5,171.4 421.6,171.4" fill="#bf00bf"/>
<polygon points="431.4,172.3 428.3,176.5 422.2,176.5 419.2,172.3 422.2,168.1 428.3,168.1" fill="#bf00bf"/>
<polygon points="438.0,168.7 434.9,172.9 428.8,172.9 425.8,168.7 428.8,164.5 434.9,164.5" fill="#bf00bf"/>
<polygon points="444.5,165.0 441.5,169.2 435.4,169.2 432.3,165.0 435.4,160.8 441.5,160.8" fill="#bf00bf"/>
<polygon points="451.1,161.4 448.0,165.6 441.9,165.6 438.9,161.4 441.9,157.2 448.0,157.2" fill="#bf00bf"/>
<polygon points="457.6,157.7 454.6,161.9 448.5,161.9 445.4,157.7 448.5,153.5 454.6,153.5" fill="#bf00bf"/>
<polygon points="464.2,154.2 461.2,158.4 455.1,158.4 452.0,154.2 455.1,150.0 461.2,150.0" fill="#bf00bf"/>
<polygon points="470.9,150.7 467.8,154.9 461.7,154.9 458.7,150.7 461.7,146.5 467.8,146.5" fill="#bf00bf"/>
<polygon points="477.4,147.1 474.3,151.3 468.2,151.3 465.2,147.1 468.2,142.9 474.3,142.9" fill="#bf00bf"/>
<polygon points="483.5,142.6 480.4,146.8 474.3,146.8 471.3,142.6 474.3,138.4 480.4,138.4" fill="#bf00bf"/>
<polygon points="489.5,138.2 486.5,142.4 480.4,142.4 477.3,138.2 480.4,134.0 486.5,134.0" fill="#bf00bf"/>
<polygon points="495.6,133.8 492.5,138.0 486.4,138.0 483.4,133.8 486.4,129.6 492.5,129.6" fill="#bf00bf"/>
<polygon points="501.6,129.4 498.6,133.6 492.5,133.6 489.4,129.4 492.5,125.2 498.6,125.2" fill="#bf00bf"/>
<polygon points="507.7,124.9 504.6,129.1 498.5,129.1 495.5,124.9 498.5,120.7 504.6,120.7" fill="#bf00bf"/>
<polygon points="513.7,120.5 510.7,124.7 504.6,124.7 501.5,120.5 504.6,116.3 510.7,116.3" fill="#bf00bf"/>
<polygon points="519.8,116.1 516.7,120.3 510.6,120.3 507.6,116.1 510.6,111.9 516.7,111.9" fill="#bf00bf"/>
<polygon points="525.9,111.7 522.8,115.9 516.7,115.9 513.7,111.7 516.7,107.5 522.8,107.5" fill="#bf00bf"/>
<polygon points="532.5,108.2 529.4,112.4 523.3,112.4 520.3,108.2 523.3,104.0 529.4,104.0" fill="#bf00bf"/>
<polygon points="539.1,104.7 536.1,108.9 530.0,108.9 526.9,104.7 530.0,100.5 536.1,100.5" fill="#bf00bf"/>
<polygon points="545.8,101.2 542.7,105.4 536.6,105.4 533.6,101.2 536.6,97.0 542.7,97.0" fill="#bf00bf"/>
<polygon points="552.4,97.7 549.3,101.9 543.2,101.9 540.2,97.7 543.2,93.5 549.3,93.5" fill="#bf00bf"/>
<polygon points="559.0,94.2 556.0,98.4 549.9,98.4 546.8,94.2 549.9,90.0 556.0,90.0" fill="#bf00bf"/>
<polygon points="565.7,90.7 562.6,94.9 556.5,94.9 553.5,90.7 556.5,86.5 562.6,86.5" fill="#bf00bf"/>
<polygon points="572.3,87.2 569.3,91.4 563.2,91.4 560.1,87.2 563.2,83.0 569.3,83.0" fill="#bf00bf"/>
<polygon points="579.0,83.8 575.9,88.0 569.8,88.0 566.8,83.8 569.8,79.6 575.9,79.6" fill="#bf00bf"/>
<polygon points="585.6,80.3 582.5,84.5 576.4,84.5 573.4,80.3 576.4,76.1 582.5,76.1" fill="#bf00bf"/>
<polygon points="592.3,76.8 589.2,81.0 583.1,81.0 580.1,76.8 583.1,72.6 589.2,72.6" fill="#bf00bf"/>
<polygon points="598.9,73.4 595.9,77.6 589.8,77.6 586.7,73.4 589.8,69.2 595.9,69.2" fill="#bf00bf"/>
<polygon points="605.6,70.0 602.6,74.2 596.5,74.2 593.4,70.0 596.5,65.8 602.6,65.8" fill="#bf00bf"/>
<polygon points="612.3,66.6 609.2,70.8 603.1,70.8 600.1,66.6 603.1,62.4 609.2,62.4" fill="#bf00bf"/>
<polygon points="619.0,63.1 615.9,67.3 609.8,67.3 606.8,63.1 609.8,58.9 615.9,58.9" fill="#bf00bf"/>
<polygon points="623.1,61.0 620.0,65.2 614.0,65.2 610.9,61.0 614.0,56.8 620.0,56.8" fill="#bf00bf"/>
</g>
<line x1="70" y1="6.2" x2="70" y2="383.2" stroke="#333" stroke-width="2"/>
<line x1="663.5" y1="6.2" x2="663.5" y2="383.2" stroke="#333" stroke-width="2"/>
<line x1="64" y1="7" x2="664.5" y2="7" stroke="#333" stroke-width="1.5"/>
<line x1="69" y1="382.4" x2="664.5" y2="382.4" stroke="#333" stroke-width="1.4"/>
<line x1="70.0" y1="382.4" x2="70.0" y2="387.9" stroke="#333" stroke-width="2"/>
<text x="70.0" y="404.5" text-anchor="middle" font-size="19.5" textLength="44.5" lengthAdjust="spacingAndGlyphs">−0.9</text>
<line x1="188.7" y1="382.4" x2="188.7" y2="387.9" stroke="#333" stroke-width="2"/>
<text x="188.7" y="404.5" text-anchor="middle" font-size="19.5" textLength="44.5" lengthAdjust="spacingAndGlyphs">−0.8</text>
<line x1="307.4" y1="382.4" x2="307.4" y2="387.9" stroke="#333" stroke-width="2"/>
<text x="307.4" y="404.5" text-anchor="middle" font-size="19.5" textLength="44.5" lengthAdjust="spacingAndGlyphs">−0.7</text>
<line x1="426.1" y1="382.4" x2="426.1" y2="387.9" stroke="#333" stroke-width="2"/>
<text x="426.1" y="404.5" text-anchor="middle" font-size="19.5" textLength="44.5" lengthAdjust="spacingAndGlyphs">−0.6</text>
<line x1="544.8" y1="382.4" x2="544.8" y2="387.9" stroke="#333" stroke-width="2"/>
<text x="544.8" y="404.5" text-anchor="middle" font-size="19.5" textLength="44.5" lengthAdjust="spacingAndGlyphs">−0.5</text>
<line x1="663.5" y1="382.4" x2="663.5" y2="387.9" stroke="#333" stroke-width="2"/>
<text x="663.5" y="404.5" text-anchor="middle" font-size="19.5" textLength="44.5" lengthAdjust="spacingAndGlyphs">−0.4</text>
<line x1="64.0" y1="7.0" x2="70.0" y2="7.0" stroke="#333" stroke-width="1.5"/>
<text x="58.3" y="13.4" text-anchor="end" font-size="19" textLength="26" lengthAdjust="spacingAndGlyphs">−2</text>
<line x1="64.0" y1="69.6" x2="70.0" y2="69.6" stroke="#333" stroke-width="1.5"/>
<text x="58.3" y="76.0" text-anchor="end" font-size="19" textLength="26" lengthAdjust="spacingAndGlyphs">−3</text>
<line x1="64.0" y1="132.1" x2="70.0" y2="132.1" stroke="#333" stroke-width="1.5"/>
<text x="58.3" y="138.5" text-anchor="end" font-size="19" textLength="26" lengthAdjust="spacingAndGlyphs">−4</text>
<line x1="64.0" y1="194.7" x2="70.0" y2="194.7" stroke="#333" stroke-width="1.5"/>
<text x="58.3" y="201.1" text-anchor="end" font-size="19" textLength="26" lengthAdjust="spacingAndGlyphs">−5</text>
<line x1="64.0" y1="257.3" x2="70.0" y2="257.3" stroke="#333" stroke-width="1.5"/>
<text x="58.3" y="263.7" text-anchor="end" font-size="19" textLength="26" lengthAdjust="spacingAndGlyphs">−6</text>
<line x1="64.0" y1="319.8" x2="70.0" y2="319.8" stroke="#333" stroke-width="1.5"/>
<text x="58.3" y="326.2" text-anchor="end" font-size="19" textLength="26" lengthAdjust="spacingAndGlyphs">−7</text>
<line x1="64.0" y1="382.4" x2="70.0" y2="382.4" stroke="#333" stroke-width="1.5"/>
<text x="58.3" y="388.8" text-anchor="end" font-size="19" textLength="26" lengthAdjust="spacingAndGlyphs">−8</text>
<text x="367.3" y="427.5" text-anchor="middle" font-size="20.5" textLength="149" lengthAdjust="spacingAndGlyphs">Potential (V)</text>
<text transform="translate(20.2,195.8) scale(1.4,1) rotate(-90)" x="0" y="0" text-anchor="middle" font-size="21" textLength="204" lengthAdjust="spacingAndGlyphs">Current Density (log I)</text>
<rect x="471.8" y="212.6" width="179.9" height="159.6" rx="3.5" fill="#fff" fill-opacity="0.8" stroke="#cfcfcf" stroke-width="1.6"/>
<line x1="480.3" y1="226.8" x2="529" y2="226.8" stroke="#000000" stroke-width="1.0"/>
<polygon points="499.0,222.5 510.6,222.5 510.6,231.1 499.0,231.1" fill="#000000"/>
<text x="548.5" y="232.6" font-size="16.6" textLength="59.5" lengthAdjust="spacingAndGlyphs">Blank</text>
<line x1="480.3" y1="252.6" x2="529" y2="252.6" stroke="#0000ff" stroke-width="1.0"/>
<polygon points="511.1,252.6 498.5,247.7 498.5,257.4" fill="#0000ff"/>
<text x="548.5" y="258.4" font-size="16.6" textLength="92.5" lengthAdjust="spacingAndGlyphs">0.0004 M</text>
<line x1="480.3" y1="278.3" x2="529" y2="278.3" stroke="#ff0000" stroke-width="1.0"/>
<polygon points="499.0,274.0 510.6,274.0 510.6,282.6 499.0,282.6" fill="#ff0000"/>
<text x="548.5" y="284.1" font-size="16.6" textLength="92.5" lengthAdjust="spacingAndGlyphs">0.0006 M</text>
<line x1="480.3" y1="304.1" x2="529" y2="304.1" stroke="#008080" stroke-width="1.0"/>
<polygon points="504.8,299.7 498.7,303.0 501.0,308.4 508.6,308.4 510.9,303.0" fill="#008080"/>
<text x="548.5" y="309.9" font-size="16.6" textLength="92.5" lengthAdjust="spacingAndGlyphs">0.0008 M</text>
<line x1="480.3" y1="329.8" x2="529" y2="329.8" stroke="#008000" stroke-width="1.0"/>
<polygon points="507.2,324.8 511.0,327.9 508.6,329.8 511.0,331.7 507.2,334.8 504.8,332.9 502.4,334.8 498.6,331.7 501.0,329.8 498.6,327.9 502.4,324.8 504.8,326.7" fill="#008000"/>
<text x="548.5" y="335.6" font-size="16.6" textLength="92.5" lengthAdjust="spacingAndGlyphs">0.0010 M</text>
<line x1="480.3" y1="355.6" x2="529" y2="355.6" stroke="#bf00bf" stroke-width="1.0"/>
<polygon points="510.9,355.6 507.9,359.8 501.8,359.8 498.7,355.6 501.8,351.4 507.9,351.4" fill="#bf00bf"/>
<text x="548.5" y="361.4" font-size="16.6" textLength="92.5" lengthAdjust="spacingAndGlyphs">0.0012 M</text>
</svg></body></html>
